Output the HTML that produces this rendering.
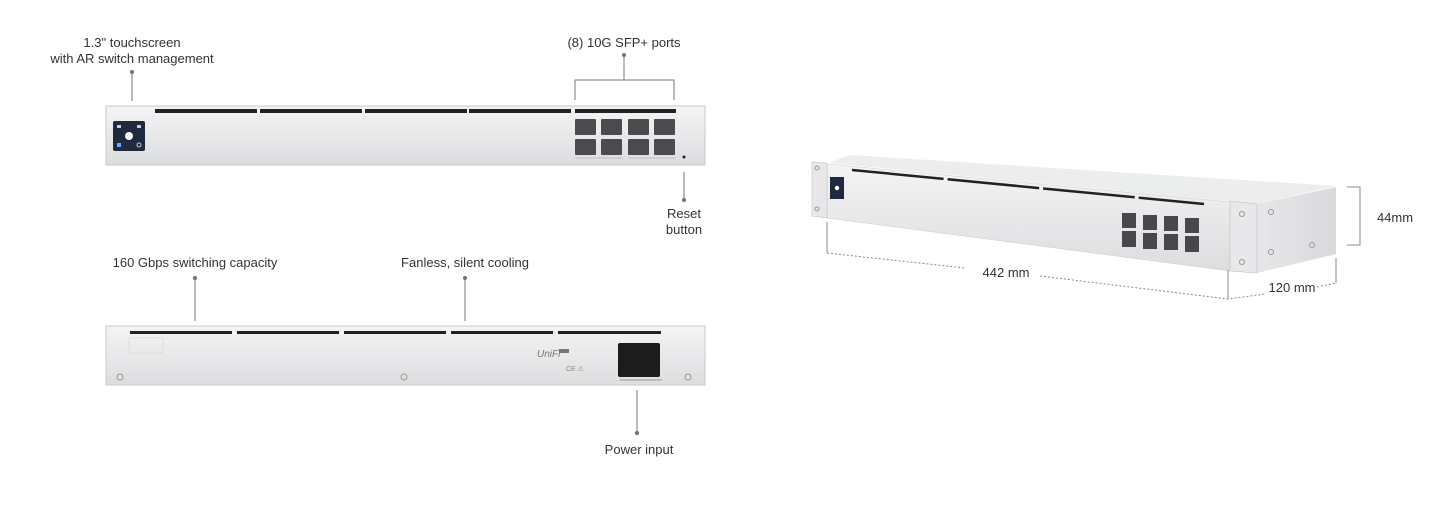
<!DOCTYPE html>
<html><head><style>
body{margin:0;width:1454px;height:516px;background:#fff;position:relative;overflow:hidden;font-family:"Liberation Sans",sans-serif;color:#333}
.t{position:absolute;font-size:13px;text-align:center;line-height:16px;white-space:nowrap;transform:translateX(-50%)}
.a{position:absolute}
</style></head><body>
<svg class="a" style="left:0;top:0" width="1454" height="516">
<defs>
<linearGradient id="pf" x1="0" y1="0" x2="0" y2="1"><stop offset="0" stop-color="#f4f4f5"/><stop offset="1" stop-color="#dcdddf"/></linearGradient>
<linearGradient id="sd" x1="0" y1="0" x2="1" y2="0"><stop offset="0" stop-color="#e6e7e9"/><stop offset="1" stop-color="#d8d9dc"/></linearGradient>
</defs>
<g stroke="#777" stroke-width="1" fill="#777">
<line x1="132" y1="72" x2="132" y2="101"/><circle cx="132" cy="72" r="1.6"/>
<line x1="624" y1="55" x2="624" y2="80"/><circle cx="624" cy="55" r="1.6"/>
<polyline points="575,100 575,80 674,80 674,100" fill="none"/>
<line x1="684" y1="172" x2="684" y2="200"/><circle cx="684" cy="200" r="1.6"/>
<line x1="195" y1="278" x2="195" y2="321"/><circle cx="195" cy="278" r="1.6"/>
<line x1="465" y1="278" x2="465" y2="321"/><circle cx="465" cy="278" r="1.6"/>
<line x1="637" y1="390" x2="637" y2="433"/><circle cx="637" cy="433" r="1.6"/>
</g>
<!-- front panel -->
<rect x="106" y="106" width="599" height="59" fill="url(#pf)" stroke="#c9cacc"/>
<g fill="#222">
<rect x="155" y="109" width="102" height="4"/><rect x="260" y="109" width="102" height="4"/><rect x="365" y="109" width="102" height="4"/><rect x="469" y="109" width="102" height="4"/><rect x="575" y="109" width="101" height="4"/>
</g>
<rect x="113" y="121" width="32" height="30" rx="2" fill="#1f2a40"/>
<circle cx="129" cy="136" r="4" fill="#fff"/>
<rect x="117" y="125" width="4" height="3" fill="#ccd"/><rect x="137" y="125" width="4" height="3" fill="#ccd"/>
<rect x="117" y="143" width="4" height="4" fill="#6af"/><circle cx="139" cy="145" r="2" fill="none" stroke="#ccd"/>
<g fill="#4a4b4e">
<rect x="575" y="119" width="21" height="16" rx="1"/><rect x="601" y="119" width="21" height="16" rx="1"/><rect x="628" y="119" width="21" height="16" rx="1"/><rect x="654" y="119" width="21" height="16" rx="1"/>
<rect x="575" y="139" width="21" height="16" rx="1"/><rect x="601" y="139" width="21" height="16" rx="1"/><rect x="628" y="139" width="21" height="16" rx="1"/><rect x="654" y="139" width="21" height="16" rx="1"/>
</g>
<rect x="575" y="157" width="48" height="2" fill="#d0d0d2"/><rect x="628" y="157" width="48" height="2" fill="#d0d0d2"/>
<circle cx="684" cy="157" r="1.5" fill="#222"/>
<!-- rear panel -->
<rect x="106" y="326" width="599" height="59" fill="url(#pf)" stroke="#c9cacc"/>
<g fill="#222">
<rect x="130" y="331" width="102" height="3"/><rect x="237" y="331" width="102" height="3"/><rect x="344" y="331" width="102" height="3"/><rect x="451" y="331" width="102" height="3"/><rect x="558" y="331" width="103" height="3"/>
</g>
<rect x="129" y="338" width="34" height="15" fill="none" stroke="#ddd"/>
<rect x="618" y="343" width="42" height="34" rx="2" fill="#1c1c1c"/>
<g fill="none" stroke="#999"><circle cx="120" cy="377" r="3"/><circle cx="404" cy="377" r="3"/><circle cx="688" cy="377" r="3"/></g>
<text x="537" y="357" font-size="10" fill="#777" font-style="italic">UniFi</text>
<rect x="559" y="349" width="10" height="4" fill="#777"/>
<text x="566" y="371" font-size="7" fill="#888">CE ⚠</text>
<rect x="620" y="379" width="42" height="2" fill="#bbb"/>
<!-- 3D device -->
<polygon points="828,163 850,155 1336,186 1257,204" fill="#eceded"/>
<polygon points="1257,204 1336,187 1336,254 1257,273" fill="url(#sd)"/>
<polygon points="827,164 1230,202 1230,271 827,218" fill="url(#pf)" stroke="#ccc" stroke-width="0.5"/>
<polygon points="812,162 827,163 827,218 812,216" fill="#e8e8ea" stroke="#bbb" stroke-width="0.5"/>
<polygon points="1230,201 1257,204 1257,273 1230,271" fill="#e8e8ea" stroke="#bbb" stroke-width="0.5"/>
<polyline points="852,170 1204,204" stroke="#222" stroke-width="2.5" fill="none" stroke-dasharray="92,4"/>
<rect x="830" y="177" width="14" height="22" fill="#1f2a40"/><circle cx="837" cy="188" r="2.2" fill="#fff"/>
<g fill="#47484b">
<rect x="1122" y="213" width="14" height="15"/><rect x="1143" y="215" width="14" height="15"/><rect x="1164" y="216" width="14" height="15"/><rect x="1185" y="218" width="14" height="15"/>
<rect x="1122" y="231" width="14" height="16"/><rect x="1143" y="233" width="14" height="16"/><rect x="1164" y="234" width="14" height="16"/><rect x="1185" y="236" width="14" height="16"/>
</g>
<g fill="none" stroke="#999"><circle cx="1242" cy="214" r="2.5"/><circle cx="1242" cy="262" r="2.5"/><circle cx="1271" cy="212" r="2.5"/><circle cx="1271" cy="252" r="2.5"/><circle cx="1312" cy="245" r="2.5"/><circle cx="817" cy="168" r="2"/><circle cx="817" cy="209" r="2"/></g>
<!-- dimensions -->
<g stroke="#888" stroke-width="1" fill="none">
<polyline points="1347,187 1360,187 1360,245 1347,245"/>
<line x1="827" y1="222" x2="827" y2="253"/>
<line x1="1228" y1="270" x2="1228" y2="299"/>
<line x1="1336" y1="258" x2="1336" y2="283"/>
<polyline points="827,253 965,268" stroke-dasharray="2,2"/>
<polyline points="1040,276 1228,299 1265,294" stroke-dasharray="2,2"/>
<polyline points="1317,287 1336,283" stroke-dasharray="2,2"/>
</g>
</svg>
<div class="t" style="left:132px;top:35px">1.3" touchscreen<br>with AR switch management</div>
<div class="t" style="left:624px;top:35px">(8) 10G SFP+ ports</div>
<div class="t" style="left:684px;top:206px">Reset<br>button</div>
<div class="t" style="left:195px;top:255px">160 Gbps switching capacity</div>
<div class="t" style="left:465px;top:255px">Fanless, silent cooling</div>
<div class="t" style="left:639px;top:442px">Power input</div>
<div class="t" style="left:1395px;top:210px">44mm</div>
<div class="t" style="left:1006px;top:265px">442 mm</div>
<div class="t" style="left:1292px;top:280px">120 mm</div>
</body></html>
